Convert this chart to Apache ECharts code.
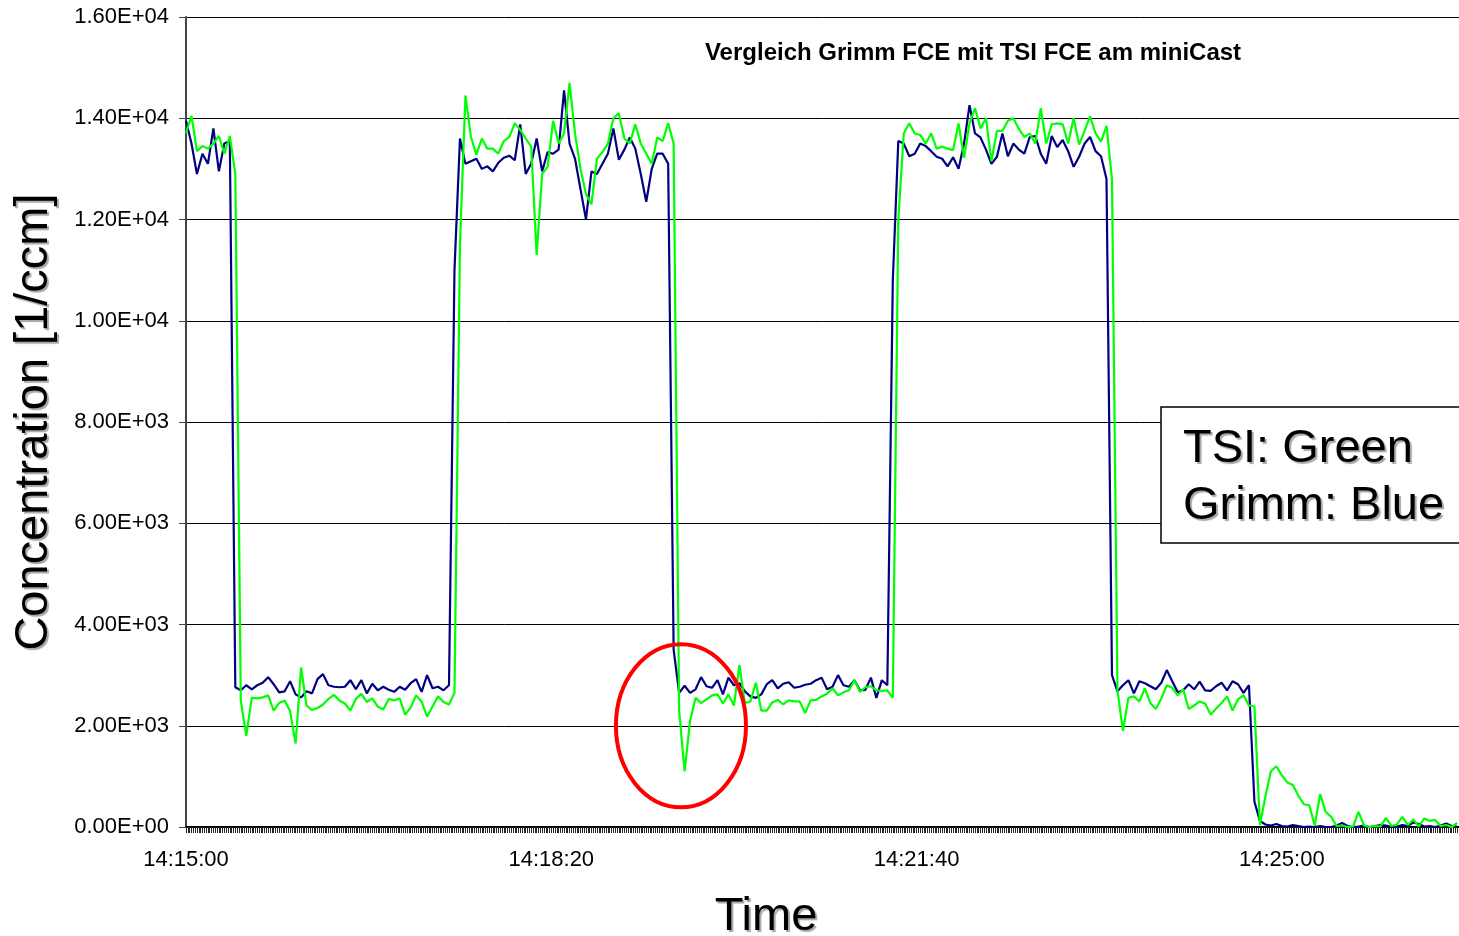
<!DOCTYPE html>
<html>
<head>
<meta charset="utf-8">
<script src="https://cdn.jsdelivr.net/npm/echarts@6/dist/echarts.min.js"></script>
<style>
html,body{margin:0;padding:0;overflow:hidden;background:#fff;}
#chart{width:1459px;height:936px;}
</style>
</head>
<body>
<div id="chart"></div>
<script>
// ---- data ----
const SAMPLE_STEP_S = 3;              // seconds between samples
const X_MAX_S = 697;                  // right edge of the plot (seconds after 14:15:00)
const xTickSeconds = [0, 200, 400, 600];
const xTickLabels = ['14:15:00', '14:18:20', '14:21:40', '14:25:00'];
const yTicks = [0, 2000, 4000, 6000, 8000, 10000, 12000, 14000, 16000];

const titleText = 'Vergleich Grimm FCE mit TSI FCE am miniCast';
const yAxisName = 'Concentration [1/ccm]';
const xAxisName = 'Time';
const legendLines = ['TSI: Green', 'Grimm: Blue'];

// Grimm (blue)
const grimm = [
  13950,13500,12900,13300,13100,13800,12950,13500,13550,
  2760,2700,2800,2720,2800,2850,2960,2820,2660,2680,
  2880,2620,2560,2680,2640,2920,3020,2800,2770,2760,
  2770,2900,2720,2900,2640,2830,2700,2770,2710,2670,
  2770,2710,2840,2920,2670,3000,2740,2770,2700,2800,
  11000,
  13600,13100,13150,13200,13000,13050,12950,13120,13220,13260,
  13170,13880,12900,13100,13600,12950,13330,13300,13380,14550,
  13500,13200,12600,12000,12950,12900,13100,13300,13800,13180,
  13380,13620,13400,12900,12350,13000,13300,13300,13100,3500,
  2650,2790,2650,2720,2960,2780,2750,2900,2620,2950,
  2800,2840,2680,2580,2550,2620,2820,2900,2740,2830,
  2860,2750,2770,2810,2830,2900,2950,2720,2770,3000,
  2800,2770,2900,2700,2710,2950,2550,2900,2800,10800,
  13550,13500,13250,13300,13500,13450,13350,13240,13200,13050,
  13230,13000,13500,14260,13700,13620,13380,13100,13240,13700,
  13250,13500,13380,13300,13630,13650,13300,13100,13650,13430,
  13570,13350,13040,13240,13500,13630,13350,13250,12800,3000,
  2680,2800,2900,2640,2880,2840,2780,2720,2850,3100,
  2880,2660,2700,2820,2720,2870,2700,2690,2780,2850,
  2700,2880,2820,2650,2800,500,120,50,30,60,
  20,10,40,20,0,10,0,20,0,0,
  30,80,20,0,10,30,0,20,40,30,
  0,10,40,20,90,60,10,20,0,30,
  70,20,10
];

// TSI (green)
const tsi = [
  13700,14050,13350,13450,13400,13500,13650,13300,13650,12900,
  2500,1800,2550,2540,2560,2600,2300,2450,2500,2290,
  1650,3150,2400,2310,2350,2420,2530,2610,2500,2440,
  2300,2530,2630,2470,2540,2380,2320,2530,2500,2540,
  2220,2360,2600,2480,2180,2380,2580,2470,2420,2650,
  11500,14450,13630,13280,13600,13400,13400,13300,13550,13630,
  13900,13770,13600,13440,11300,12900,13040,13950,13500,13700,
  14700,13700,13000,12500,12300,13200,13330,13500,14000,14100,
  13600,13500,13880,13500,13300,13100,13620,13550,13900,13500,
  2300,1100,2100,2550,2450,2520,2600,2620,2440,2620,
  2400,3200,2450,2480,2850,2300,2300,2460,2510,2420,
  2500,2480,2480,2250,2500,2510,2580,2630,2740,2600,
  2660,2700,2900,2670,2760,2780,2700,2690,2700,2550,
  12000,13700,13900,13700,13670,13500,13700,13400,13440,13400,
  13370,13900,13220,13900,14200,13800,14000,13150,13750,13750,
  13950,14000,13790,13630,13700,13500,14200,13500,13880,13900,
  13880,13500,14000,13480,13750,14040,13700,13540,13850,12800,
  2700,1900,2550,2580,2480,2740,2450,2330,2540,2800,
  2750,2600,2720,2330,2400,2480,2440,2220,2340,2450,
  2580,2300,2520,2600,2400,2380,40,600,1100,1200,
  1020,880,830,620,450,430,30,650,300,200,
  20,30,0,10,300,30,0,20,10,180,
  20,50,200,40,150,10,170,120,140,20,
  40,0,80
];

// red circle annotation (data coordinates: seconds, concentration)
const annotCenter = [271, 2000];
const annotRadius = [35.6, 1610];

// ---- chart ----
const FONT = '"Liberation Sans", Arial, sans-serif';
const toPairs = arr => arr.map((v, i) => [i * SAMPLE_STEP_S, v]);
const tickLabelMap = {};
xTickSeconds.forEach((s, i) => { tickLabelMap[s] = xTickLabels[i]; });
// one category per second: only used for the dense tick marks under the axis
const secondCategories = Array.from({length: X_MAX_S + 1}, (_, i) => String(i));

function sci(v) {
  if (v === 0) return '0.00E+00';
  const e = Math.floor(Math.log10(Math.abs(v)));
  const m = v / Math.pow(10, e);
  const es = (e < 0 ? '-' : '+') + String(Math.abs(e)).padStart(2, '0');
  return m.toFixed(2) + 'E' + es;
}

const chart = echarts.init(document.getElementById('chart'), null, {renderer: 'canvas'});

const shadow = {textShadowColor: 'rgba(0,0,0,0.35)', textShadowOffsetX: 2, textShadowOffsetY: 2, textShadowBlur: 1};

const baseGraphics = [
  {id: 'title', type: 'text', x: 973, y: 53, z: 10,
    style: {text: titleText, font: 'bold 24px ' + FONT, fill: '#000', textAlign: 'center', textVerticalAlign: 'middle'}},
  {id: 'xname', type: 'text', x: 766, y: 917, z: 10,
    style: Object.assign({text: xAxisName, font: '47px ' + FONT, fill: '#000', textAlign: 'center', textVerticalAlign: 'middle'}, shadow)},
  {id: 'legbox', type: 'rect', z: 10,
    shape: {x: 1161, y: 407, width: 330, height: 136},
    style: {fill: '#fff', stroke: '#000', lineWidth: 1.5}},
  {id: 'leg1', type: 'text', x: 1183, y: 449, z: 11,
    style: Object.assign({text: legendLines[0], font: '47px ' + FONT, fill: '#000', textAlign: 'left', textVerticalAlign: 'middle'}, shadow)},
  {id: 'leg2', type: 'text', x: 1183, y: 506, z: 11,
    style: Object.assign({text: legendLines[1], font: '47px ' + FONT, fill: '#000', textAlign: 'left', textVerticalAlign: 'middle'}, shadow)}
];

chart.setOption({
  animation: false,
  backgroundColor: '#fff',
  grid: {left: 186, right: 0, top: 17, bottom: 109, containLabel: false},
  xAxis: [
    {
      type: 'value', min: 0, max: X_MAX_S, interval: 200,
      axisLine: {show: true, lineStyle: {color: '#000', width: 2}},
      axisTick: {show: true, length: 6, lineStyle: {color: '#222', width: 1}},
      splitLine: {show: false},
      axisLabel: {
        margin: 22, color: '#000', fontFamily: FONT, fontSize: 22,
        showMaxLabel: false,
        formatter: v => tickLabelMap[v] || ''
      }
    },
    {
      type: 'category', data: secondCategories, boundaryGap: false, position: 'bottom',
      axisLine: {show: false},
      axisLabel: {show: false},
      splitLine: {show: false},
      axisTick: {show: true, interval: 0, length: 6, lineStyle: {color: '#222', width: 1}}
    }
  ],
  yAxis: {
    type: 'value', min: yTicks[0], max: yTicks[yTicks.length - 1], interval: 2000,
    name: yAxisName, nameLocation: 'middle', nameGap: 128,
    nameTextStyle: Object.assign({fontFamily: FONT, fontSize: 47, color: '#000'}, shadow),
    axisLine: {show: true, lineStyle: {color: '#444', width: 2}},
    axisTick: {show: true, length: 7, lineStyle: {color: '#444', width: 1}},
    splitLine: {show: true, lineStyle: {color: '#000', width: 1}},
    axisLabel: {margin: 17, color: '#000', fontFamily: FONT, fontSize: 22, formatter: v => sci(v)}
  },
  series: [
    {name: 'Grimm', type: 'line', xAxisIndex: 0, data: toPairs(grimm), showSymbol: false, symbol: 'none',
      lineStyle: {color: '#000080', width: 2.2}, itemStyle: {color: '#000080'}, z: 2, clip: true},
    {name: 'TSI', type: 'line', xAxisIndex: 0, data: toPairs(tsi), showSymbol: false, symbol: 'none',
      lineStyle: {color: '#00FF00', width: 2.2}, itemStyle: {color: '#00FF00'}, z: 3, clip: true}
  ],
  graphic: baseGraphics
});

const c = chart.convertToPixel({xAxisIndex: 0, yAxisIndex: 0}, annotCenter);
const edge = chart.convertToPixel({xAxisIndex: 0, yAxisIndex: 0}, [annotCenter[0] + annotRadius[0], annotCenter[1] + annotRadius[1]]);
chart.setOption({
  graphic: baseGraphics.concat([{
    id: 'circle', type: 'ellipse', z: 12,
    shape: {cx: c[0], cy: c[1], rx: edge[0] - c[0], ry: c[1] - edge[1]},
    style: {fill: 'none', stroke: '#FF0000', lineWidth: 4}
  }])
});
</script>
</body>
</html>
